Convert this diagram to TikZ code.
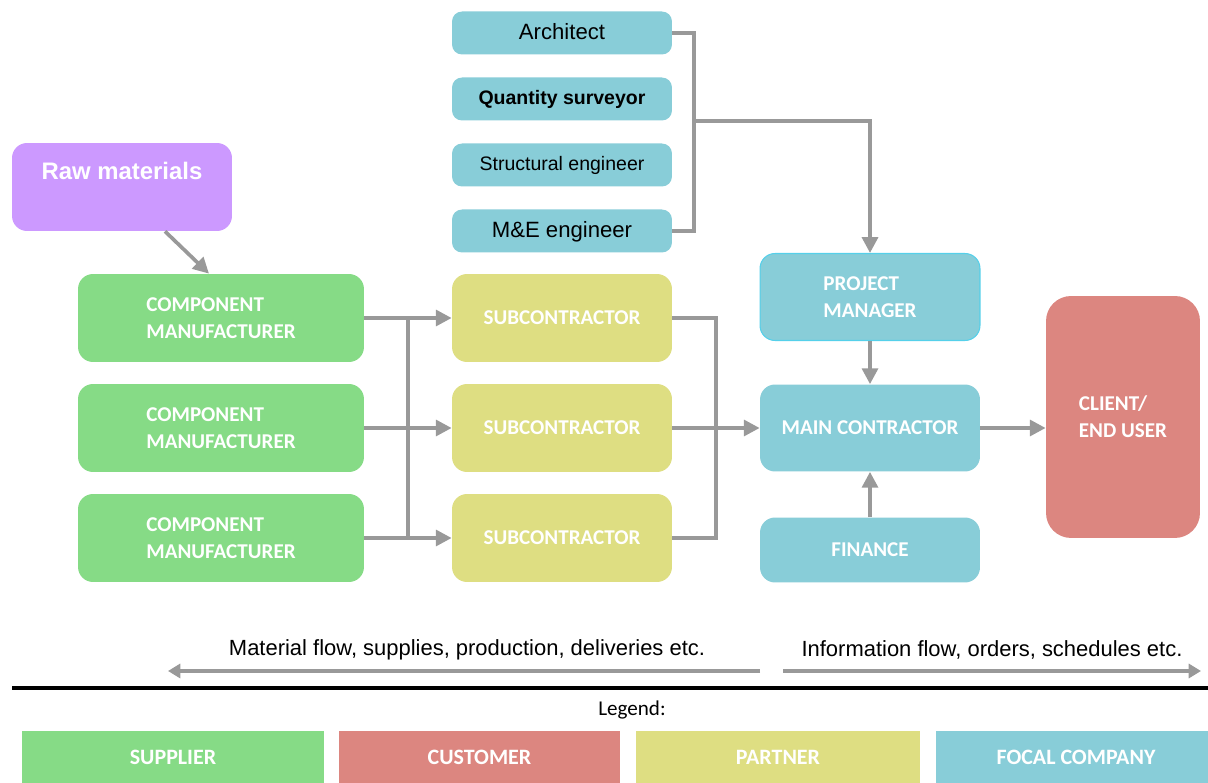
\documentclass[tikz,border=0pt]{standalone}
\usepackage{fontspec}
\setmainfont{Liberation Sans}
\newfontfamily\carlito{Carlito}
\usetikzlibrary{arrows.meta}

\definecolor{supgreen}{HTML}{86DB86}
\definecolor{partyellow}{HTML}{DEDE82}
\definecolor{focblue}{HTML}{88CDD8}
\definecolor{custred}{HTML}{DC8680}
\definecolor{rawpurple}{HTML}{CC99FF}
\definecolor{flowgrey}{HTML}{999999}
\definecolor{pmedge}{HTML}{55D0EA}

\begin{document}
\begin{tikzpicture}[x=0.02cm, y=-0.02cm,
	box/.style={rounded corners=0.3cm, inner sep=0pt, text=white, align=left,
		font=\carlito\bfseries\fontsize{12}{15.5}\selectfont},
	cmbox/.style={box, fill=supgreen, minimum width=5.72cm, minimum height=1.76cm},
	subbox/.style={box, fill=partyellow, minimum width=4.4cm, minimum height=1.76cm},
	fcbox/.style={box, fill=focblue, minimum width=4.4cm, minimum height=1.74cm},
	rolebox/.style={rounded corners=0.2cm, fill=focblue, minimum width=4.4cm, minimum height=0.86cm,
		inner sep=0pt, text=black, text depth=0.3ex, font=\fontsize{11.1}{13}\selectfont},
	legbox/.style={fill=#1, inner sep=0pt, minimum height=1.04cm, text=white,
		font=\carlito\bfseries\fontsize{12.5}{15}\selectfont},
	line/.style={draw=flowgrey, line width=2.1pt},
	flow/.style={line, -{Triangle[length=9pt,width=9pt]}},
	bigflow/.style={draw=flowgrey, line width=2.6pt, -{Triangle[length=7pt,width=8pt]}}
	]
	\useasboundingbox (0,0) rectangle (1208,783);
	
	% raw materials
	\node [box, fill=rawpurple, minimum width=4.4cm, minimum height=1.76cm] (raw) at (122,187) {};
	\node [text=white, font=\bfseries\fontsize{13.6}{16}\selectfont] (rawtxt) at (122,171) {Raw materials};
	
	% suppliers and partners
	\node [cmbox] (cm1) at (221,318) {COMPONENT\\MANUFACTURER};
	\node [cmbox] (cm2) at (221,428) {COMPONENT\\MANUFACTURER};
	\node [cmbox] (cm3) at (221,538) {COMPONENT\\MANUFACTURER};
	\node [subbox] (sub1) at (562,318) {SUBCONTRACTOR};
	\node [subbox] (sub2) at (562,428) {SUBCONTRACTOR};
	\node [subbox] (sub3) at (562,538) {SUBCONTRACTOR};
	
	% consultants
	\node [rolebox, font=\fontsize{12.6}{15}\selectfont] (arch) at (562,33) {Architect};
	\node [rolebox, font=\bfseries\fontsize{11.1}{13}\selectfont] (qs) at (562,99) {Quantity surveyor};
	\node [rolebox] (struct) at (562,165) {Structural engineer};
	\node [rolebox, font=\fontsize{12.6}{15}\selectfont] (me) at (562,231) {M\&E engineer};
	
	% focal company and customer
	\node [fcbox, draw=pmedge, line width=0.6pt] (pm) at (870,297) {PROJECT\\MANAGER};
	\node [fcbox] (mc) at (870,428) {MAIN CONTRACTOR};
	\node [fcbox, minimum height=1.3cm] (fin) at (870,550) {FINANCE};
	\node [box, fill=custred, minimum width=3.08cm, minimum height=4.84cm, rounded corners=0.5cm] (client) at (1123,417) {CLIENT/\\END USER};
	
	% connectors
	\draw [flow] ([xshift=0.86cm]raw.south) -- ([xshift=-0.24cm]cm1.north);
	\draw [flow] (cm1) -- (sub1);
	\draw [flow] (cm2) -- (sub2);
	\draw [flow] (cm3) -- (sub3);
	\coordinate (busT) at (408,318);
	\coordinate (busB) at (408,538);
	\draw [line] (busT) -- (busB);
	\draw [line] (sub1.east) -- ++(44,0) |- (sub3.east);
	\draw [flow] (sub2) -- (mc);
	\draw [line] (arch.east) -- ++(22,0) |- (me.east);
	\coordinate (jn) at (694,121);
	\draw [flow] (jn) -| (pm.north);
	\draw [flow] (pm) -- (mc);
	\draw [flow] (fin) -- (mc);
	\draw [flow] (mc.east) -- (mc.east -| client.west);
	
	% flow directions
	\coordinate (matR) at (760,671);
	\coordinate (matL) at (168,671);
	\coordinate (infL) at (783,671);
	\coordinate (infR) at (1201,671);
	\draw [bigflow] (matR) -- (matL);
	\draw [bigflow] (infL) -- (infR);
	\node [font=\fontsize{12.5}{15}\selectfont] (mattxt) at (467,650) {Material flow, supplies, production, deliveries etc.};
	\node [font=\fontsize{12.5}{15}\selectfont] (inftxt) at (992,650) {Information flow, orders, schedules etc.};
	
	% legend
	\coordinate (sepL) at (12,688);
	\coordinate (sepR) at (1208,688);
	\draw [line width=1.8pt] (sepL) -- (sepR);
	\node [font=\carlito\fontsize{12}{14}\selectfont] (legend) at (632,710) {Legend:};
	\node [legbox=supgreen, minimum width=6.04cm] (lsup) at (173,757) {SUPPLIER};
	\node [legbox=custred, minimum width=5.62cm] (lcus) at (479.5,757) {CUSTOMER};
	\node [legbox=partyellow, minimum width=5.68cm] (lpar) at (778,757) {PARTNER};
	\node [legbox=focblue, minimum width=5.6cm] (lfoc) at (1076,757) {FOCAL COMPANY};
\end{tikzpicture}
\end{document}
